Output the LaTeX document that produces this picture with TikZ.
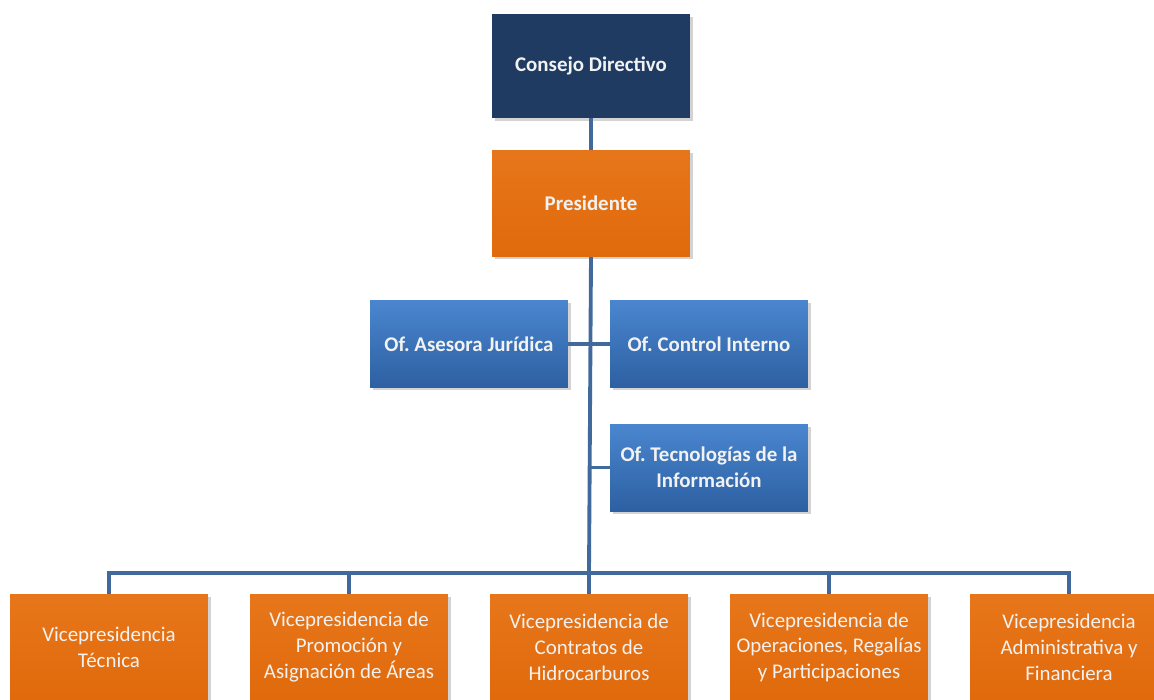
\documentclass[tikz,border=0pt]{standalone}
\usepackage{fontspec}
\setmainfont{Carlito}
\usepackage{xcolor}
\usepackage{tikz}
\usetikzlibrary{positioning, shadows}
\frenchspacing

\definecolor{navybox}{HTML}{1F3B62}
\definecolor{orangebox}{HTML}{E06A0C}
\definecolor{orangetop}{HTML}{E7761A}
\definecolor{bluetop}{HTML}{4A86CF}
\definecolor{bluebot}{HTML}{2D60A2}
\definecolor{linkcol}{HTML}{41699C}

\begin{document}
\begin{tikzpicture}[
    x=0.02cm, y=-0.02cm,
    box/.style={rectangle, text=white!95!black, text centered, minimum width=3.96cm,
        font=\fontsize{11.9}{14.7}\selectfont,
        drop shadow={opacity=0.35, shadow xshift=1.5pt, shadow yshift=-1.5pt}},
    headbox/.style={box, fill=navybox, minimum height=2.08cm, font=\fontsize{11.9}{14.7}\selectfont\bfseries},
    chiefbox/.style={box, top color=orangetop, bottom color=orangebox, minimum height=2.12cm, font=\fontsize{11.9}{14.7}\selectfont\bfseries},
    staffbox/.style={box, top color=bluetop, bottom color=bluebot, minimum height=1.74cm, font=\fontsize{11.9}{14.7}\selectfont\bfseries},
    vicebox/.style={box, top color=orangetop, bottom color=orangebox, minimum height=2.12cm, align=center},
    link/.style={draw=linkcol, line width=2.2pt}
]
\useasboundingbox (0,0) rectangle (1154,700);

% Top of the chart
\node[headbox] (consejo) at (591,66) {Consejo Directivo};
\node[chiefbox, below=0.64cm of consejo] (presidente) {Presidente};

% Staff offices
\node[staffbox, anchor=north] (juridica) at (469,300) {Of. Asesora Jurídica};
\node[staffbox, anchor=north] (control) at (709,300) {Of. Control Interno};
\node[staffbox, below=0.72cm of control, align=center] (tic) {Of. Tecnologías de la\\Información};

% Vicepresidencias
\node[vicebox, anchor=north] (vtecnica) at (109,594) {Vicepresidencia\\Técnica};
\node[vicebox, anchor=north] (vpromocion) at (349,594) {Vicepresidencia de\\Promoción y\\Asignación de Áreas};
\node[vicebox, anchor=north] (vcontratos) at (589,594) {Vicepresidencia de\\Contratos de\\Hidrocarburos};
\node[vicebox, anchor=north] (voperaciones) at (829,594) {Vicepresidencia de\\Operaciones, Regalías\\y Participaciones};
\node[vicebox, anchor=north] (vadmin) at (1069,594) {Vicepresidencia\\Administrativa y\\Financiera};

\coordinate (bus) at (589,573);

% Connections
\draw[link] (consejo) -- (presidente);
\draw[link] (presidente.south) -- (bus);
\draw[link] (juridica.east) -- (juridica.east -| presidente.south);
\draw[link] (control.west) -- (control.west -| presidente.south);
\draw[link] (tic.west) -- (tic.west -| presidente.south);
\draw[link] (bus) -| (vtecnica.north);
\draw[link] (bus) -| (vpromocion.north);
\draw[link] (bus) -- (vcontratos.north);
\draw[link] (bus) -| (voperaciones.north);
\draw[link] (bus) -| (vadmin.north);

\end{tikzpicture}
\end{document}
